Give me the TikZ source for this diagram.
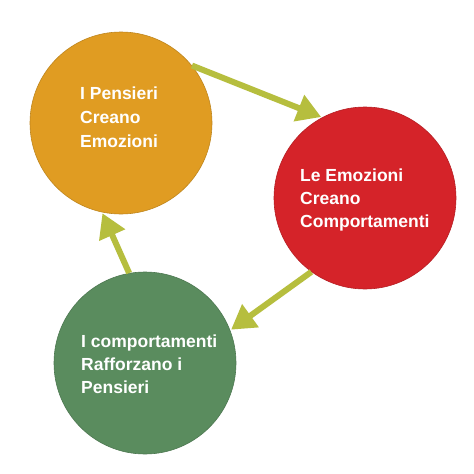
\documentclass[tikz,border=0pt]{standalone}
\usepackage{fontspec}
\setmainfont{Liberation Sans}
\usetikzlibrary{arrows.meta}
\definecolor{corange}{RGB}{224,156,34}
\definecolor{cred}{RGB}{213,35,41}
\definecolor{cgreen}{RGB}{90,140,94}
\definecolor{carrow}{RGB}{182,190,62}
\tikzset{
  bubble/.style={circle, minimum size=182pt, inner sep=0pt, line width=0.6pt},
  btext/.style={anchor=base west, inner sep=0pt, align=left, text=white,
    font=\bfseries\fontsize{17.5}{24}\selectfont},
  arr/.style={draw=carrow, line width=6pt, -{Triangle[width=27pt,length=24pt]}, shorten >=1pt}
}
\begin{document}
\begin{tikzpicture}[x=1pt,y=-1pt]
\useasboundingbox (0,0) rectangle (474,474);
\fill[white] (0,0) rectangle (474,474);
\node[bubble, fill=corange, draw=corange!85!black] (o) at (121,123) {};
\node[bubble, fill=cred, draw=cred!85!black] (r) at (365,198) {};
\node[bubble, fill=cgreen, draw=cgreen!85!black] (g) at (145,363) {};
\node[btext] (ot) at (80,147) {I Pensieri\\Creano\\Emozioni};
\node[btext, font=\bfseries\fontsize{17.5}{23}\selectfont] (rt) at (300,227) {Le Emozioni\\Creano\\Comportamenti};
\node[btext, font=\bfseries\fontsize{17.5}{23}\selectfont] (gt) at (81,393) {I comportamenti\\Rafforzano i\\Pensieri};
\draw[arr] (o.39) -- (r.118);
\draw[arr] (r.234) -- (g.21);
\draw[arr] (g.100) -- (o.258);
\end{tikzpicture}
\end{document}
